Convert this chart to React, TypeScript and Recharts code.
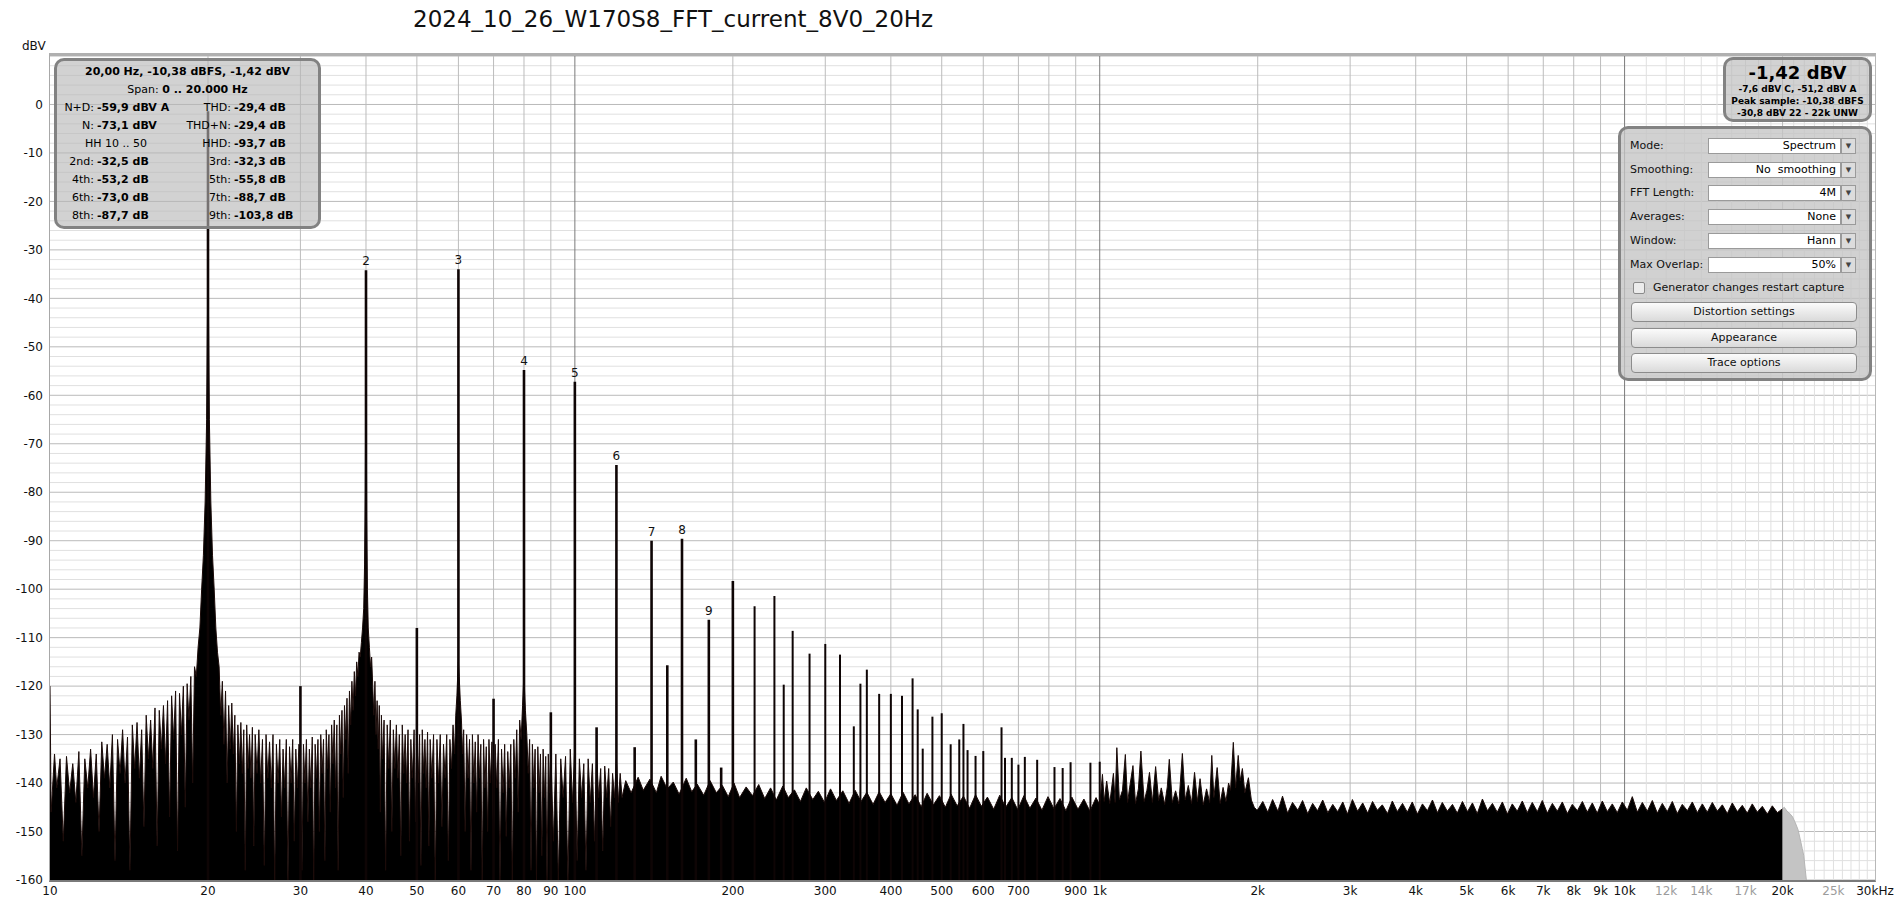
import React from 'react';
import {
  ComposedChart,
  Area,
  XAxis,
  YAxis,
  CartesianGrid,
  ReferenceLine,
  ReferenceDot,
} from 'recharts';

const chartTitle = '2024_10_26_W170S8_FFT_current_8V0_20Hz';

// x axis ticks (log Hz)
const xTicks = [
  10, 20, 30, 40, 50, 60, 70, 80, 90, 100, 200, 300, 400, 500, 600, 700, 900, 1000,
  2000, 3000, 4000, 5000, 6000, 7000, 8000, 9000, 10000, 12000, 14000, 17000, 20000,
  25000, 30000,
];
const xTickLabels = [
  '10', '20', '30', '40', '50', '60', '70', '80', '90', '100', '200', '300', '400', '500',
  '600', '700', '900', '1k', '2k', '3k', '4k', '5k', '6k', '7k', '8k', '9k', '10k', '12k',
  '14k', '17k', '20k', '25k', '30kHz',
];
const xTickMuted = ['12k', '14k', '17k', '25k'];
const yTicks = [0, -10, -20, -30, -40, -50, -60, -70, -80, -90, -100, -110, -120, -130, -140, -150, -160];

// noise floor envelope, [Hz, dBV]
const band10to20: [number, number][] = [
  [10.0, -120], [10.05, -146], [10.2, -134], [10.3, -141], [10.45, -135], [10.6, -152],
  [10.75, -134.5], [10.9, -142], [11.05, -136], [11.2, -144], [11.35, -133.5], [11.5, -155],
  [11.65, -135], [11.8, -141], [11.95, -133], [12.1, -143], [12.25, -134], [12.4, -150],
  [12.55, -131.5], [12.7, -139], [12.85, -132], [13.0, -141], [13.15, -130], [13.3, -156],
  [13.45, -131], [13.6, -138], [13.75, -129], [13.9, -140], [14.05, -130.5], [14.2, -158],
  [14.35, -128], [14.5, -137], [14.65, -127.5], [14.8, -139], [14.95, -129], [15.1, -149],
  [15.25, -126], [15.4, -135], [15.55, -127], [15.7, -137], [15.85, -124.5], [16.0, -153],
  [16.15, -125], [16.3, -133], [16.45, -124], [16.6, -136], [16.75, -123], [16.9, -147],
  [17.05, -122], [17.2, -131], [17.35, -121], [17.5, -154], [17.65, -121.5], [17.8, -130],
  [17.95, -120], [18.1, -145], [18.25, -119.5], [18.4, -127], [18.55, -118], [18.7, -140],
  [18.85, -116], [19.0, -118], [19.15, -112], [19.3, -108], [19.45, -100], [19.6, -93],
  [19.75, -82], [19.88, -65], [19.95, -45],
];

const band20to40: [number, number][] = [
  [20.0, -30], [20.05, -45], [20.12, -65], [20.25, -82], [20.4, -93], [20.55, -100],
  [20.7, -108], [20.85, -113], [21.0, -116], [21.15, -126], [21.3, -119], [21.45, -132],
  [21.6, -121], [21.75, -140], [21.9, -124], [22.05, -133], [22.2, -123.5], [22.35, -134],
  [22.5, -126], [22.65, -150], [22.8, -128], [22.95, -136], [23.1, -127.5], [23.25, -138],
  [23.4, -129], [23.55, -158], [23.7, -128], [23.85, -137], [24.0, -130], [24.15, -139],
  [24.3, -128.5], [24.45, -153], [24.6, -130], [24.8, -138], [25.0, -129], [25.2, -140],
  [25.4, -131], [25.6, -157], [25.8, -130], [26.0, -139], [26.2, -131.5], [26.4, -141],
  [26.6, -130], [26.8, -160], [27.0, -132], [27.2, -140], [27.4, -131], [27.6, -147],
  [27.8, -133], [28.0, -141], [28.2, -131], [28.4, -160], [28.6, -132.5], [28.8, -140],
  [29.0, -131], [29.2, -152], [29.4, -133], [29.6, -141], [29.8, -132], [30.0, -133],
  [30.2, -158], [30.4, -132], [30.6, -140], [30.8, -131], [31.0, -148], [31.2, -133],
  [31.4, -141], [31.6, -130.5], [31.8, -160], [32.0, -132], [32.2, -139], [32.4, -131],
  [32.6, -150], [32.8, -130], [33.0, -138], [33.2, -131], [33.4, -156], [33.6, -129],
  [33.8, -137], [34.0, -130], [34.2, -146], [34.4, -128], [34.6, -136], [34.8, -127],
  [35.0, -141], [35.2, -128], [35.4, -158], [35.6, -126], [35.8, -134], [36.0, -125],
  [36.2, -143], [36.4, -124], [36.6, -131], [36.8, -122.5], [37.0, -138], [37.2, -121],
  [37.4, -128], [37.6, -119], [37.8, -125], [38.0, -117], [38.2, -122], [38.4, -115],
  [38.6, -118], [38.8, -113], [39.0, -114], [39.2, -111], [39.4, -108], [39.6, -104],
  [39.75, -95], [39.88, -80], [39.95, -60], [40.0, -40],
];

const band40to80: [number, number][] = [
  [40.05, -62], [40.12, -85], [40.25, -100], [40.4, -108], [40.6, -112], [40.8, -116],
  [41.0, -114], [41.2, -120], [41.4, -126], [41.6, -119], [41.8, -130], [42.0, -123],
  [42.2, -133], [42.4, -124], [42.6, -146], [42.8, -126], [43.0, -135], [43.3, -127],
  [43.6, -158], [43.9, -128], [44.2, -137], [44.5, -127], [44.8, -150], [45.1, -129],
  [45.4, -137], [45.7, -128], [46.0, -139], [46.3, -130], [46.6, -155], [46.9, -128],
  [47.2, -138], [47.5, -130], [47.8, -140], [48.1, -129], [48.4, -152], [48.7, -131],
  [49.0, -139], [49.4, -129], [49.7, -148], [50.0, -129], [50.3, -140], [50.6, -130],
  [50.9, -157], [51.2, -129], [51.5, -138], [51.8, -131], [52.1, -141], [52.4, -129.5],
  [52.7, -153], [53.0, -131], [53.4, -139], [53.8, -130], [54.2, -160], [54.6, -131],
  [55.0, -140], [55.4, -130], [55.8, -149], [56.2, -132], [56.6, -139], [57.0, -130],
  [57.4, -156], [57.8, -131], [58.2, -137], [58.6, -128], [59.0, -134], [59.3, -126],
  [59.6, -122], [59.8, -118], [60.0, -115], [60.2, -118], [60.5, -123], [60.8, -127],
  [61.1, -134], [61.4, -129], [61.8, -150], [62.2, -130], [62.6, -139], [63.0, -131],
  [63.4, -158], [63.8, -130], [64.2, -140], [64.6, -131.5], [65.0, -146], [65.4, -130],
  [65.8, -139], [66.2, -132], [66.6, -160], [67.0, -131], [67.4, -141], [67.8, -132.5],
  [68.2, -150], [68.6, -131], [69.0, -140], [69.5, -131.5], [70.0, -156], [70.5, -132],
  [71.0, -141], [71.5, -131], [72.0, -160], [72.5, -133], [73.0, -142], [73.5, -132],
  [74.0, -151], [74.5, -133.5], [75.0, -141], [75.5, -132], [76.0, -160], [76.5, -131],
  [77.0, -139], [77.5, -129], [78.0, -146], [78.5, -127], [79.0, -131], [79.5, -124],
  [79.8, -120], [80.0, -115],
];

const band80to125: [number, number][] = [
  [80.2, -121], [80.5, -125], [81.0, -130], [81.5, -138], [82.0, -131], [82.5, -158],
  [83.0, -132], [83.5, -141], [84.0, -133], [84.5, -160], [85.0, -132.5], [85.5, -142],
  [86.0, -134], [86.5, -155], [87.0, -133], [87.5, -143], [88.0, -134.5], [88.5, -160],
  [89.0, -134], [89.5, -142], [90.0, -133], [91.0, -152], [92.0, -134], [93.0, -160],
  [94.0, -135], [95.0, -143], [96.0, -134.5], [97.0, -160], [98.0, -133], [99.0, -144],
  [100.0, -132], [101.0, -156], [102.0, -135], [103.0, -143], [104.0, -136], [105.0, -158],
  [106.0, -135], [107.0, -144], [108.0, -136], [109.0, -152], [110.0, -134], [111.0, -143],
  [112.0, -137], [113.0, -154], [114.0, -136.5], [115.0, -143], [116.0, -137], [117.0, -149],
  [118.0, -138], [119.0, -143], [120.0, -135], [121.0, -144], [122.0, -138], [123.0, -143],
];

const band125to1k: [number, number][] = [
  [125, -139.5], [128, -142], [132, -138.8], [135, -141.5], [139, -139.2], [143, -142],
  [146, -138.6], [150, -141.2], [154, -139.8], [158, -142.3], [163, -139], [167, -141.8],
  [171, -140.2], [176, -142.5], [181, -139.5], [186, -142], [191, -140.5], [196, -142.8],
  [201, -140], [206, -143], [212, -140.8], [218, -142.6], [224, -140.3], [230, -143.2],
  [236, -141], [242, -143.5], [249, -140.6], [255, -143], [262, -141.4], [269, -143.8],
  [276, -141], [284, -143.4], [291, -141.7], [299, -144], [307, -141.2], [315, -143.6],
  [324, -141.6], [333, -144.2], [342, -141.5], [351, -143.8], [360, -141.9], [370, -144.4],
  [380, -141.8], [390, -144], [400, -142.2], [411, -144.6], [422, -141.9], [433, -144.3],
  [445, -142.4], [457, -144.9], [469, -142.1], [482, -144.5], [495, -142.6], [508, -145],
  [521, -142.3], [535, -144.7], [550, -142.7], [565, -145.2], [580, -142.4], [595, -144.8],
  [611, -142.9], [628, -145.4], [645, -142.5], [662, -145], [680, -143], [698, -145.5],
  [717, -142.6], [736, -145.2], [756, -143.1], [776, -145.6], [797, -142.8], [818, -145.3],
  [840, -143.2], [862, -145.7], [885, -142.9], [909, -145.4], [933, -143.3], [958, -145.8],
  [984, -143],
];

const band1kto2k: [number, number][] = [
  [1000, -144.5], [1012, -138.2], [1020, -143.8], [1031, -139.6], [1045, -144.2], [1062, -138],
  [1070, -144], [1078, -132.7], [1090, -143.5], [1105, -141.5], [1119, -134.1], [1130, -144],
  [1140, -141], [1157, -136.4], [1170, -144.2], [1185, -141.2], [1198, -133.4], [1215, -143.8],
  [1230, -141.5], [1244, -137.8], [1260, -144], [1278, -136.6], [1295, -143.6], [1310, -141],
  [1330, -144.4], [1345, -140.8], [1357, -135.1], [1375, -144], [1395, -141.6], [1415, -144.3],
  [1437, -133.9], [1455, -143.5], [1475, -140.5], [1496, -144.2], [1516, -137.8], [1535, -143.8],
  [1553, -139.1], [1575, -144.5], [1598, -141.2], [1620, -144], [1635, -134.3], [1650, -143],
  [1674, -136.8], [1696, -144.2], [1718, -140.9], [1740, -143.8], [1760, -140], [1775, -141.5],
  [1797, -131.6], [1815, -141], [1836, -134.3], [1852, -139.5], [1870, -137], [1890, -142],
  [1920, -138.9], [1945, -143.5], [1970, -145], [1990, -145.5],
];

const band2kto20k: [number, number][] = [
  [2000, -145.5], [2045, -143.8], [2090, -146], [2135, -143.4], [2185, -145.8], [2230, -142.7],
  [2280, -146.2], [2330, -144], [2385, -145.6], [2435, -143.6], [2490, -146.3], [2545, -144.2],
  [2600, -145.7], [2660, -143.5], [2720, -146.1], [2780, -144.4], [2840, -145.9], [2905, -143.9],
  [2965, -146.4], [3030, -143.4], [3100, -145.8], [3170, -144.1], [3240, -146.2], [3310, -143.8],
  [3380, -145.6], [3455, -144.5], [3535, -146.3], [3610, -143.7], [3690, -145.9], [3775, -144.2],
  [3855, -146], [3940, -143.9], [4030, -146.4], [4120, -144.3], [4210, -145.7], [4305, -143.5],
  [4400, -146.1], [4495, -144], [4595, -145.8], [4700, -144.4], [4800, -146.2], [4910, -143.8],
  [5020, -145.9], [5130, -144.1], [5240, -146.3], [5360, -143.3], [5480, -145.7], [5600, -144.2],
  [5720, -146], [5850, -143.9], [5980, -146.4], [6110, -144.3], [6245, -145.8], [6385, -143.7],
  [6525, -146.1], [6670, -144], [6820, -145.9], [6970, -143.6], [7125, -146.2], [7285, -144.2],
  [7445, -145.8], [7610, -143.9], [7780, -146.3], [7950, -144.4], [8130, -145.7], [8310, -143.8],
  [8490, -146], [8680, -144.1], [8870, -146.2], [9070, -143.7], [9270, -145.9], [9475, -144.3],
  [9685, -146.1], [9900, -143.9], [10120, -145.6], [10345, -142.8], [10575, -146], [10810, -144],
  [11050, -145.8], [11295, -143.6], [11545, -146.2], [11800, -144.2], [12060, -145.9], [12330, -143.8],
  [12600, -146.3], [12880, -144.4], [13170, -145.7], [13460, -143.9], [13760, -146.1], [14065, -144.3],
  [14375, -146], [14695, -144], [15020, -145.8], [15355, -144.5], [15695, -146.3], [16040, -144.1],
  [16400, -145.9], [16760, -144.6], [17130, -146.2], [17510, -144.3], [17900, -146], [18300, -144.8],
  [18705, -146.4], [19120, -144.7], [19545, -146.1], [20000, -145.3],
];

// out-of-span part, drawn grey
const beyond20k: [number, number][] = [
  [20000, -145.3], [20150, -145], [20400, -145.8], [20650, -146.3], [20900, -147],
  [21150, -148.2], [21400, -149.6], [21600, -151.5], [21800, -153.5], [21950, -155],
  [22100, -158], [22200, -160],
];

// fundamental, harmonics and mains tones
const toneHz = [
  20, 30, 40, 50, 60, 70, 80, 90, 100, 110, 120, 130, 140, 150, 160, 170, 180, 190, 200,
  220, 240, 250, 260, 280, 300, 320, 340, 350, 360, 380, 400, 420, 440, 450, 460, 480,
  500, 520, 540, 550, 560, 580, 600, 650, 660, 680, 700, 720, 760, 820, 850, 880, 960, 1000,
];
const toneDb = [
  -1.42, -120, -34.2, -108, -34, -122.6, -54.8, -125.4, -57.2, -128.5, -74.4, -132.6, -90,
  -115.7, -89.6, -131, -106.3, -136.8, -98.3, -103.5, -101.4, -119.7, -108.6, -113.3, -111.3,
  -113.5, -128.3, -119.5, -116.6, -121.6, -121.6, -122, -118.4, -124.8, -132.9, -126.3,
  -125.6, -132, -131, -127.8, -133.2, -134.4, -133.4, -128.5, -134.8, -134.8, -136.2,
  -134.6, -135.2, -136.7, -136.9, -135.7, -135.8, -135.6,
];
const harmonicNumbers = [2, 3, 4, 5, 6, 7, 8, 9];

const rows = [
  ...[...band10to20, ...band20to40, ...band40to80, ...band80to125, ...band125to1k, ...band1kto2k, ...band2kto20k]
    .map(([f, db]) => ({ f, noise: db as number | undefined, beyond: undefined as number | undefined })),
  ...beyond20k.slice(1).map(([f, db]) => ({ f, noise: undefined, beyond: db })),
];
rows.forEach((r) => {
  if (r.f === 20000) r.beyond = beyond20k[0][1];
});

// grid positions
const minorDb: number[] = [];
const majorDb: number[] = [];
for (let v = -160; v <= 10; v += 2) (v % 10 === 0 ? majorDb : minorDb).push(v);
const midHz: number[] = [];
for (const d of [10, 100, 1000]) for (let k = 2; k <= 9; k++) midHz.push(k * d);
midHz.push(20000);
const fineHz: number[] = [];
for (let k = 11; k <= 29; k++) if (k !== 20) fineHz.push(k * 1000);
const decadeHz = [100, 1000, 10000];

const FreqTick = (props: any) => {
  const { x, y, payload } = props;
  const i = xTicks.indexOf(payload.value);
  const label = i >= 0 ? xTickLabels[i] : String(payload.value);
  return (
    <text x={x} y={y} dy="0.71em" textAnchor="middle" fontSize={12}
      fill={xTickMuted.includes(label) ? '#9c9c9c' : '#111'}>
      {label}
    </text>
  );
};

const boxStyle: React.CSSProperties = {
  position: 'absolute',
  background: 'rgba(183,183,183,0.62)',
  border: '3px solid rgba(125,125,125,0.95)',
  borderRadius: 10,
  boxSizing: 'border-box',
};

const infoRows = [
  ['N+D:', '-59,9 dBV A', 'THD:', '-29,4 dB'],
  ['N:', '-73,1 dBV', 'THD+N:', '-29,4 dB'],
  ['', 'HH 10 .. 50', 'HHD:', '-93,7 dB'],
  ['2nd:', '-32,5 dB', '3rd:', '-32,3 dB'],
  ['4th:', '-53,2 dB', '5th:', '-55,8 dB'],
  ['6th:', '-73,0 dB', '7th:', '-88,7 dB'],
  ['8th:', '-87,7 dB', '9th:', '-103,8 dB'],
];

const panelRows = [
  ['Mode:', 'Spectrum'],
  ['Smoothing:', 'No  smoothing'],
  ['FFT Length:', '4M'],
  ['Averages:', 'None'],
  ['Window:', 'Hann'],
  ['Max Overlap:', '50%'],
];
const panelButtons = ['Distortion settings', 'Appearance', 'Trace options'];

const abs = (left: number, top: number, extra: React.CSSProperties = {}): React.CSSProperties => ({
  position: 'absolute', left, top, whiteSpace: 'pre', ...extra,
});

export default function App() {
  return (
    <div style={{ position: 'absolute', left: 0, top: 0, width: 1900, height: 903, background: '#fff',
      fontFamily: '"DejaVu Sans", sans-serif', overflow: 'hidden' }}>
      <div style={abs(413, 4, { fontSize: 23, lineHeight: '30px', color: '#111' })}>{chartTitle}</div>
      <div style={abs(22, 38, { fontSize: 12, lineHeight: '16px', color: '#111' })}>dBV</div>

      <ComposedChart width={1900} height={903} data={rows}
        margin={{ top: 56, right: 25, left: 0, bottom: 0 }}>
        <CartesianGrid horizontalValues={minorDb} vertical={false} stroke="#e0e0e0" />
        <CartesianGrid horizontalValues={majorDb} vertical={false} stroke="#bababa" />
        <CartesianGrid verticalValues={fineHz} horizontal={false} stroke="#e0e0e0" />
        <CartesianGrid verticalValues={midHz} horizontal={false} stroke="#bcbcbc" />
        <CartesianGrid verticalValues={decadeHz} horizontal={false} stroke="#7a7a7a" />
        <XAxis dataKey="f" type="number" scale="log" domain={[10, 30000]} allowDataOverflow
          ticks={xTicks} interval={0} height={23} tickLine={false} axisLine={false}
          tickSize={0} tickMargin={6} tick={<FreqTick />} />
        <YAxis type="number" domain={[-160, 10]} allowDataOverflow ticks={yTicks} interval={0}
          width={50} tickLine={false} axisLine={false} tickSize={0} tickMargin={7}
          tick={{ fill: '#111', fontSize: 12 }} />
        <Area type="linear" dataKey="noise" baseValue={-160} stroke="#1c0c0a" strokeWidth={1}
          fill="#000" fillOpacity={1} dot={false} activeDot={false} isAnimationActive={false} />
        <Area type="linear" dataKey="beyond" baseValue={-160} stroke="#b5b5b5" strokeWidth={1}
          fill="#c4c4c4" fillOpacity={1} dot={false} activeDot={false} isAnimationActive={false} />
        {toneHz.map((f, i) => (
          <ReferenceLine key={`t${f}`} ifOverflow="visible"
            segment={[{ x: f, y: -160 }, { x: f, y: toneDb[i] }]}
            stroke="#0e0505" strokeWidth={f <= 200 ? 2.6 : 2} />
        ))}
        {harmonicNumbers.map((n) => (
          <ReferenceDot key={`h${n}`} x={n * 20} y={toneDb[toneHz.indexOf(n * 20)]} r={0}
            fill="none" stroke="none" ifOverflow="visible"
            label={{ value: String(n), position: 'top', offset: 5, fontSize: 12, fill: '#111' }} />
        ))}
      </ComposedChart>

      {/* plot frame */}
      <div style={{ position: 'absolute', left: 49, top: 53, width: 1827, height: 829, boxSizing: 'border-box',
        borderTop: '3px solid #b0b0b0', borderLeft: '1px solid #a8a8a8', borderRight: '1px solid #b8b8b8',
        borderBottom: '2px solid #7a7a7a', pointerEvents: 'none' }} />

      {/* measurement box */}
      <div style={{ ...boxStyle, left: 54, top: 58, width: 267, height: 171 }} />
      <div style={abs(54, 65, { width: 267, textAlign: 'center', fontSize: 11, fontWeight: 'bold', lineHeight: '14px' })}>
        20,00 Hz, -10,38 dBFS, -1,42 dBV
      </div>
      <div style={abs(54, 83, { width: 267, textAlign: 'center', fontSize: 11, lineHeight: '14px' })}>
        Span: <b>0 .. 20.000 Hz</b>
      </div>
      {infoRows.map((r, i) => {
        const top = 101 + i * 18;
        return (
          <React.Fragment key={i}>
            {r[0] ? (
              <>
                <div style={abs(0, top, { width: 94, textAlign: 'right', fontSize: 11, lineHeight: '14px' })}>{r[0]}</div>
                <div style={abs(97, top, { fontSize: 11, lineHeight: '14px', fontWeight: 'bold' })}>{r[1]}</div>
              </>
            ) : (
              <div style={abs(56, top, { width: 120, textAlign: 'center', fontSize: 11, lineHeight: '14px' })}>{r[1]}</div>
            )}
            <div style={abs(0, top, { width: 231, textAlign: 'right', fontSize: 11, lineHeight: '14px' })}>{r[2]}</div>
            <div style={abs(234, top, { fontSize: 11, lineHeight: '14px', fontWeight: 'bold' })}>{r[3]}</div>
          </React.Fragment>
        );
      })}

      {/* level box */}
      <div style={{ ...boxStyle, left: 1723, top: 57, width: 149, height: 65 }} />
      <div style={abs(1723, 62, { width: 149, textAlign: 'center', fontSize: 18, fontWeight: 'bold', lineHeight: '22px' })}>
        -1,42 dBV
      </div>
      {['-7,6 dBV C, -51,2 dBV A', 'Peak sample: -10,38 dBFS', '-30,8 dBV 22 - 22k UNW'].map((t, i) => (
        <div key={t} style={abs(1723, 83 + i * 12, { width: 149, textAlign: 'center', fontSize: 9, fontWeight: 'bold', lineHeight: '12px' })}>
          {t}
        </div>
      ))}

      {/* controls panel */}
      <div style={{ ...boxStyle, left: 1618, top: 126, width: 254, height: 255, background: 'rgba(196,196,196,0.78)' }} />
      {panelRows.map(([label, value], i) => {
        const cy = 146 + i * 23.7;
        return (
          <React.Fragment key={label}>
            <div style={abs(1630, cy - 7, { fontSize: 11, lineHeight: '14px', color: '#111' })}>{label}</div>
            <div style={abs(1708, cy - 8, { width: 133, height: 16, boxSizing: 'border-box', background: '#fff',
              border: '1px solid #9a9a9a', fontSize: 11, lineHeight: '14px', textAlign: 'right', paddingRight: 4 })}>
              {value}
            </div>
            <div style={abs(1841, cy - 8, { width: 15, height: 16, boxSizing: 'border-box', background: '#dcdcdc',
              border: '1px solid #9a9a9a', fontSize: 7, lineHeight: '14px', textAlign: 'center', color: '#444' })}>
              ▼
            </div>
          </React.Fragment>
        );
      })}
      <div style={abs(1633, 282, { width: 12, height: 12, boxSizing: 'border-box', border: '1px solid #8a8a8a',
        borderRadius: 2, background: '#ececec' })} />
      <div style={abs(1653, 281, { fontSize: 11, lineHeight: '14px', color: '#111' })}>Generator changes restart capture</div>
      {panelButtons.map((t, i) => (
        <div key={t} style={abs(1631, 302 + i * 25.5, { width: 226, height: 20, boxSizing: 'border-box',
          border: '1px solid #8c8c8c', borderRadius: 4, background: 'linear-gradient(#fbfbfb, #dadada)',
          fontSize: 11, lineHeight: '18px', textAlign: 'center', color: '#111' })}>
          {t}
        </div>
      ))}
    </div>
  );
}
